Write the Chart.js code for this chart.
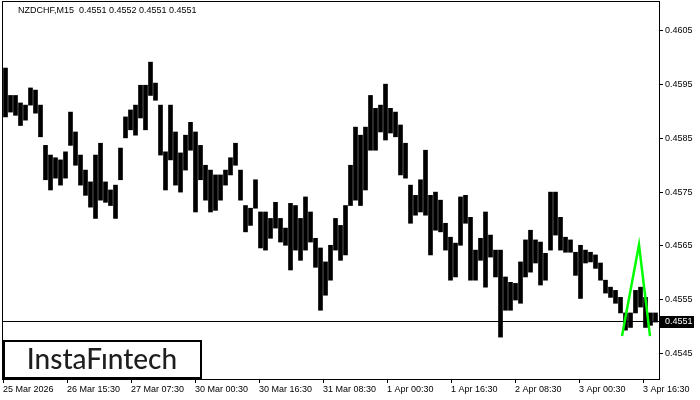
<!DOCTYPE html>
<html>
<head>
<meta charset="utf-8">
<title>NZDCHF M15</title>
<script src="https://cdn.jsdelivr.net/npm/chart.js@4.4.1/dist/chart.umd.min.js"></script>
<style>
    html, body { margin: 0; padding: 0; background: #fff; }
    #chart_wrap { width: 700px; height: 400px; position: relative; }
</style>
</head>
<body>
<div id="chart_wrap"><canvas id="priceChart"></canvas></div>
<script>
// NZDCHF M15 - every entry below covers 5 M15 candles
const bar_highs = [
    0.45981, 0.45930, 0.45930, 0.45916, 0.45912, 0.45944, 0.45940, 0.45912, 0.45837, 0.45819,
    0.45814, 0.45810, 0.45825, 0.45899, 0.45862, 0.45819, 0.45791, 0.45769, 0.45819, 0.45841,
    0.45769, 0.45754, 0.45763, 0.45832, 0.45890, 0.45903, 0.45912, 0.45949, 0.45949, 0.45992,
    0.45953, 0.45912, 0.45825, 0.45912, 0.45862, 0.45823, 0.45856, 0.45880, 0.45862, 0.45837,
    0.45800, 0.45791, 0.45782, 0.45782, 0.45791, 0.45814, 0.45841, 0.45791, 0.45725, 0.45720,
    0.45773, 0.45713, 0.45713, 0.45701, 0.45731, 0.45701, 0.45683, 0.45729, 0.45725, 0.45701,
    0.45741, 0.45713, 0.45664, 0.45646, 0.45620, 0.45651, 0.45701, 0.45688, 0.45725, 0.45800,
    0.45871, 0.45856, 0.45871, 0.45930, 0.45906, 0.45912, 0.45951, 0.45906, 0.45899, 0.45875,
    0.45841, 0.45763, 0.45744, 0.45773, 0.45828, 0.45744, 0.45750, 0.45735, 0.45692, 0.45666,
    0.45655, 0.45741, 0.45744, 0.45703, 0.45642, 0.45664, 0.45713, 0.45670, 0.45642, 0.45642,
    0.45592, 0.45582, 0.45580, 0.45620, 0.45661, 0.45679, 0.45661, 0.45657, 0.45636, 0.45750,
    0.45750, 0.45703, 0.45666, 0.45661, 0.45638, 0.45651, 0.45642, 0.45638, 0.45633, 0.45618,
    0.45586, 0.45573, 0.45567, 0.45554, 0.45525, 0.45525, 0.45567, 0.45573, 0.45554, 0.45525,
    0.45525
];
const bar_lows = [
    0.45890, 0.45899, 0.45893, 0.45874, 0.45884, 0.45912, 0.45897, 0.45853, 0.45773, 0.45754,
    0.45776, 0.45763, 0.45776, 0.45837, 0.45800, 0.45763, 0.45744, 0.45722, 0.45701, 0.45735,
    0.45731, 0.45725, 0.45701, 0.45773, 0.45851, 0.45866, 0.45856, 0.45888, 0.45866, 0.45930,
    0.45921, 0.45819, 0.45754, 0.45810, 0.45763, 0.45750, 0.45791, 0.45828, 0.45713, 0.45773,
    0.45735, 0.45713, 0.45716, 0.45735, 0.45763, 0.45782, 0.45800, 0.45735, 0.45676, 0.45688,
    0.45720, 0.45646, 0.45642, 0.45664, 0.45683, 0.45657, 0.45651, 0.45605, 0.45642, 0.45623,
    0.45642, 0.45657, 0.45610, 0.45530, 0.45558, 0.45586, 0.45642, 0.45623, 0.45633, 0.45725,
    0.45735, 0.45725, 0.45754, 0.45828, 0.45828, 0.45862, 0.45847, 0.45860, 0.45853, 0.45782,
    0.45776, 0.45692, 0.45707, 0.45713, 0.45707, 0.45633, 0.45679, 0.45676, 0.45642, 0.45586,
    0.45592, 0.45651, 0.45692, 0.45586, 0.45586, 0.45623, 0.45573, 0.45629, 0.45592, 0.45480,
    0.45530, 0.45530, 0.45549, 0.45543, 0.45592, 0.45601, 0.45618, 0.45577, 0.45586, 0.45642,
    0.45670, 0.45642, 0.45638, 0.45638, 0.45595, 0.45552, 0.45618, 0.45620, 0.45608, 0.45586,
    0.45562, 0.45554, 0.45543, 0.45525, 0.45493, 0.45498, 0.45525, 0.45536, 0.45498, 0.45502,
    0.45508
];
const candles_per_bar = 5;

// x axis is counted in M15 candles from the first bar on screen
const time_ticks = [0, 64, 128, 192, 256, 320, 384, 448, 512, 576, 640];
const time_labels = ['25 Mar 2026', '26 Mar 15:30', '27 Mar 07:30', '30 Mar 00:30', '30 Mar 16:30',
    '31 Mar 08:30', '1 Apr 00:30', '1 Apr 16:30', '2 Apr 08:30', '3 Apr 00:30', '3 Apr 16:30'];
const time_max = 656;

const price_ticks = [0.4545, 0.4555, 0.4565, 0.4575, 0.4585, 0.4595, 0.4605];
const price_min = 0.45402;
const price_max = 0.46104;
const last_price = 0.4551;
const header_quote = ['0.4551', '0.4552', '0.4551', '0.4551'];

// double top pattern outline
const pattern_x = [619, 636, 647];
const pattern_y = [0.45482, 0.45652, 0.45482];

const axis_font = { family: 'Liberation Sans', size: 9 };

/**
 * Frame, last price line/tag, header text and logo box
 */
const terminal_decor = {
    id: 'terminal_decor',
    beforeDatasetsDraw(chart) {
        const { ctx, chartArea: area, scales } = chart;
        const py = Math.round(scales.y.getPixelForValue(last_price)) + 0.5;
        ctx.save();
        ctx.strokeStyle = '#000';
        ctx.lineWidth = 1;
        ctx.beginPath();
        ctx.moveTo(area.left, py);
        ctx.lineTo(area.right, py);
        ctx.stroke();
        ctx.restore();
    },
    afterDraw(chart) {
        const { ctx, chartArea: area, scales } = chart;
        ctx.save();

        // chart frame
        ctx.strokeStyle = '#000';
        ctx.lineWidth = 1;
        ctx.strokeRect(area.left - 0.5, area.top - 0.5, area.right - area.left + 1, area.bottom - area.top + 1);

        // header
        ctx.fillStyle = '#000';
        ctx.font = '9px "Liberation Sans"';
        ctx.textBaseline = 'middle';
        ctx.textAlign = 'left';
        ctx.fillText('NZDCHF,M15  ' + header_quote.join(' '), 18, 11);

        // last price tag
        const py = Math.round(scales.y.getPixelForValue(last_price));
        ctx.fillStyle = '#000';
        ctx.fillRect(area.right + 1, py - 5, 34, 12);
        ctx.fillStyle = '#fff';
        ctx.fillText(last_price.toFixed(4), area.right + 6, py + 1);

        // logo box
        ctx.fillStyle = '#fff';
        ctx.fillRect(area.left, 340, 198, 38);
        ctx.strokeStyle = '#000';
        ctx.lineWidth = 2;
        ctx.strokeRect(area.left + 1, 341, 197, 37);
        ctx.fillStyle = '#1e1e1e';
        ctx.font = '500 28px Lato';
        ctx.textAlign = 'center';
        ctx.textBaseline = 'alphabetic';
        ctx.fillText('InstaFıntech', 102, 369);

        ctx.restore();
    }
};

const bar_points = bar_highs.map((high, i) => ({
    x: i * candles_per_bar + candles_per_bar / 2,
    y: [bar_lows[i], high]
}));
const pattern_points = pattern_x.map((x, i) => ({ x: x, y: pattern_y[i] }));

const ctx = document.getElementById('priceChart').getContext('2d');
new Chart(ctx, {
    type: 'bar',
    data: {
        datasets: [{
            type: 'line',
            data: pattern_points,
            borderColor: '#00ff00',
            borderWidth: 2.5,
            pointRadius: 0,
            order: 1
        }, {
            type: 'bar',
            data: bar_points,
            backgroundColor: '#000',
            borderWidth: 0,
            barThickness: 4,
            grouped: false,
            order: 2
        }]
    },
    options: {
        responsive: true,
        maintainAspectRatio: false,
        animation: false,
        layout: { padding: { left: 3, top: 2, right: 0, bottom: 0 } },
        plugins: {
            legend: { display: false },
            tooltip: { enabled: false },
            title: { display: false }
        },
        scales: {
            x: {
                type: 'linear',
                offset: false,
                min: 0,
                max: time_max,
                afterBuildTicks: scale => { scale.ticks = time_ticks.map(v => ({ value: v })); },
                afterFit: scale => {
                    scale.height = 21;
                    scale.paddingLeft = 0;
                    scale.paddingRight = 0;
                },
                ticks: {
                    align: 'start',
                    autoSkip: false,
                    maxRotation: 0,
                    padding: 1,
                    color: '#000',
                    font: axis_font,
                    callback: (value, index) => time_labels[index]
                },
                grid: { offset: false, drawOnChartArea: false, drawTicks: true, tickLength: 4, color: '#000' },
                border: { display: false }
            },
            y: {
                position: 'right',
                min: price_min,
                max: price_max,
                afterBuildTicks: scale => { scale.ticks = price_ticks.map(v => ({ value: v })); },
                afterFit: scale => {
                    scale.width = 41;
                    scale.paddingTop = 0;
                    scale.paddingBottom = 0;
                },
                ticks: {
                    padding: 2,
                    color: '#000',
                    font: axis_font,
                    callback: value => value.toFixed(4)
                },
                grid: { drawOnChartArea: false, drawTicks: true, tickLength: 4, color: '#000' },
                border: { display: false }
            }
        }
    },
    plugins: [terminal_decor]
});
</script>
</body>
</html>
